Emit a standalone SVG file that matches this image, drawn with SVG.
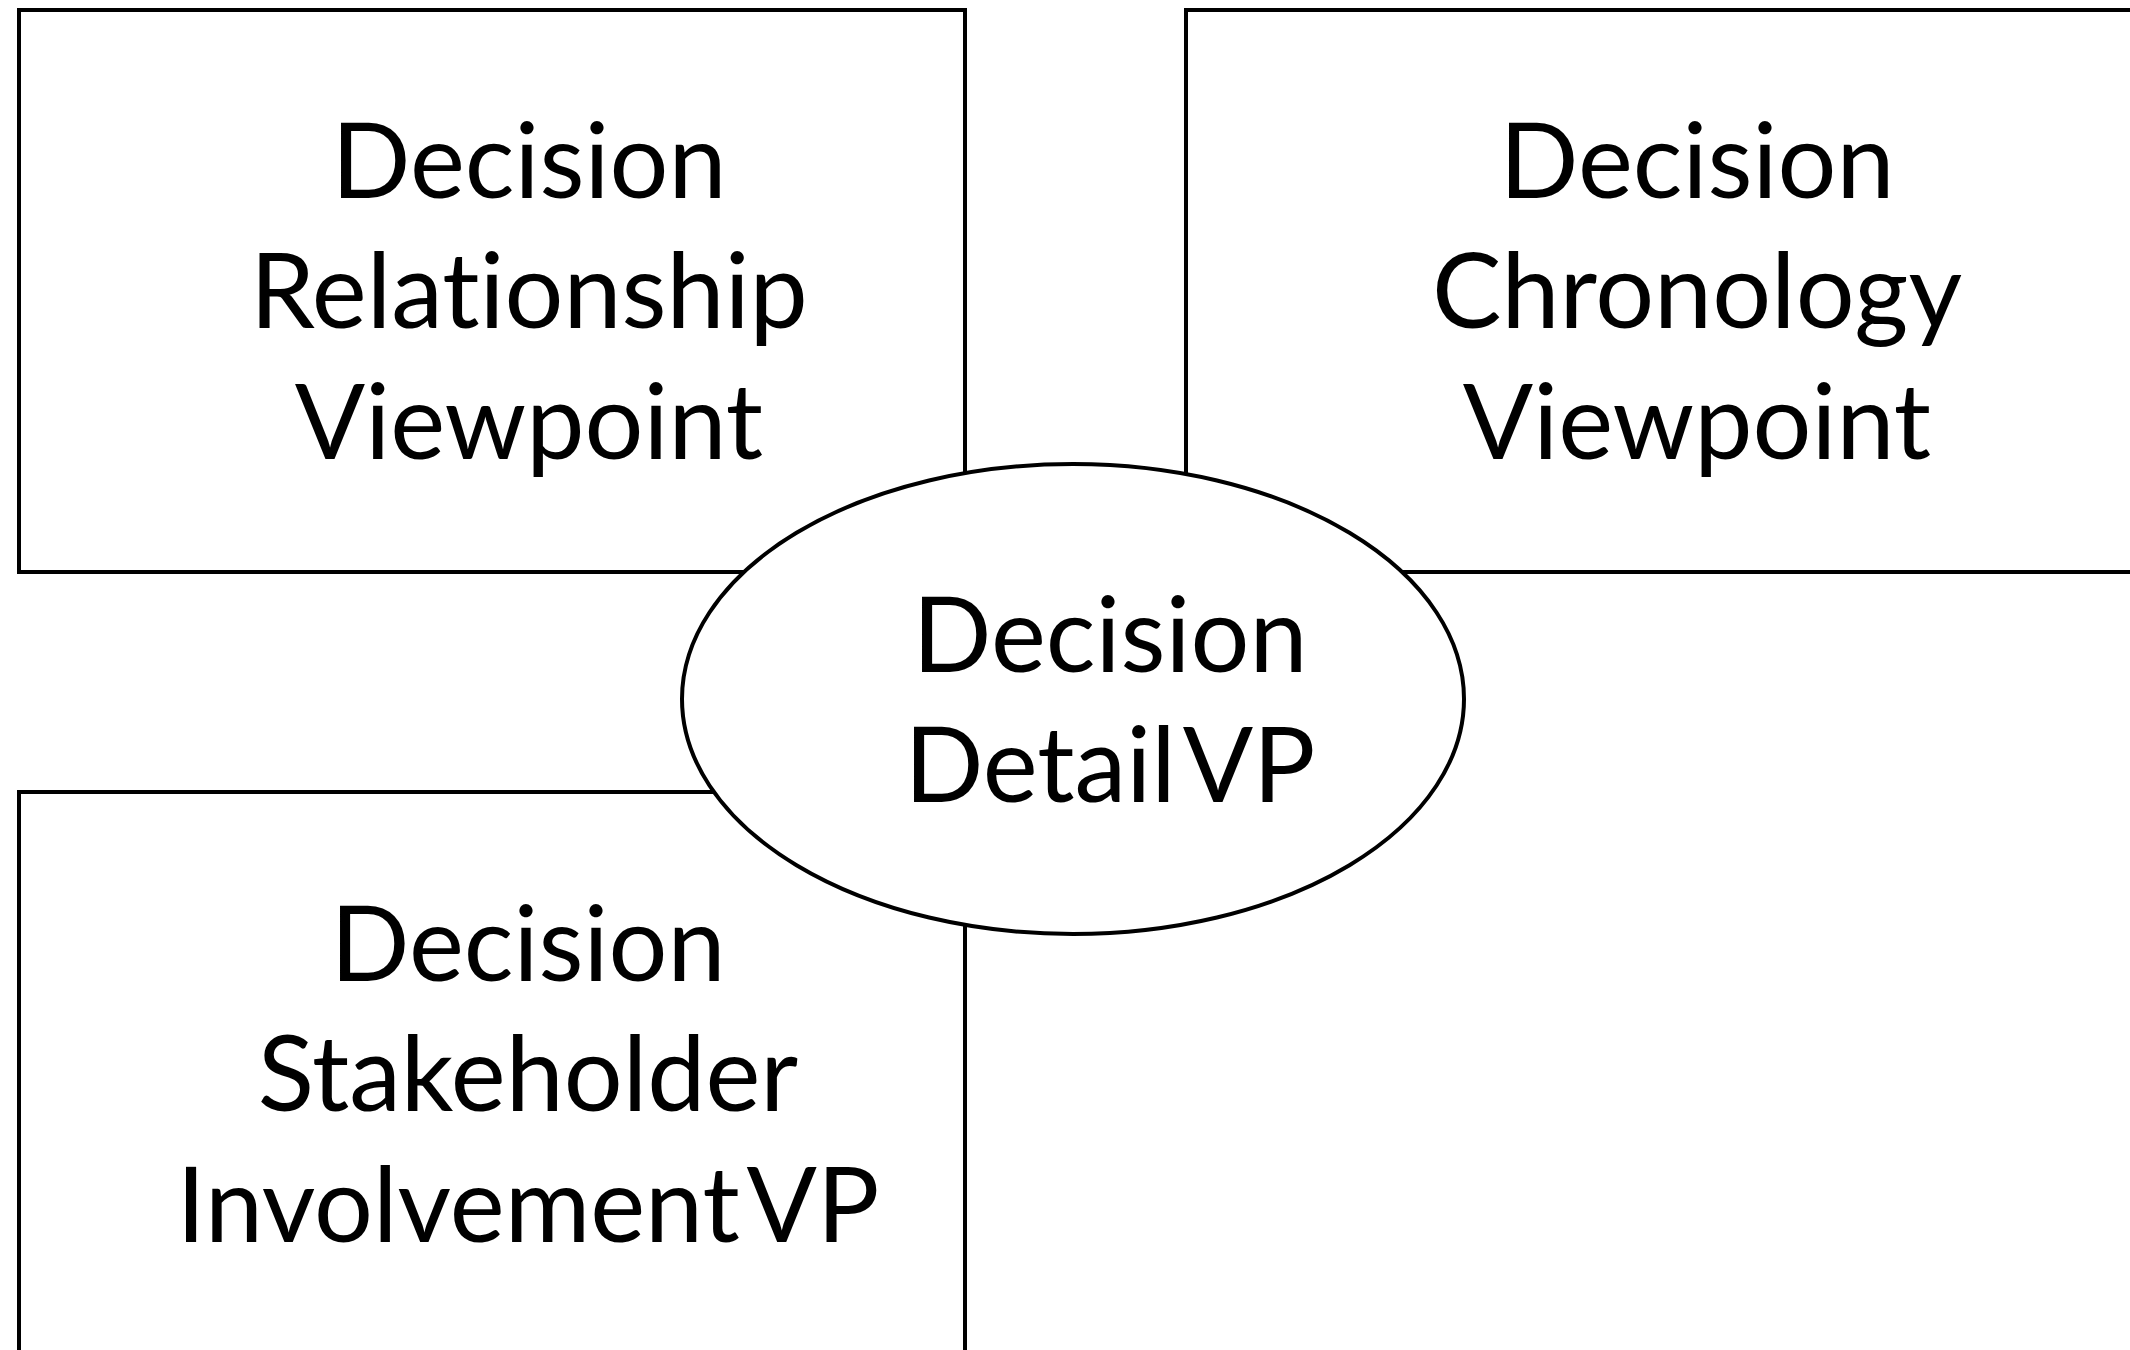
<svg xmlns="http://www.w3.org/2000/svg" width="2130" height="1350" viewBox="0 0 2130 1350">
<style>
.box{fill:#fff;stroke:#000;stroke-width:4}
.ell{fill:#fff;stroke:#000;stroke-width:4}
.lbl{font-family:"Lato","Liberation Sans",sans-serif;font-size:104px;fill:#000;text-anchor:middle;font-variant-ligatures:none;font-feature-settings:"liga" 0,"dlig" 0}
.tight{word-spacing:-16px}
</style>
<rect width="2130" height="1350" fill="#fff"/>
<g id="connectors"></g>
<g id="relationship">
<rect class="box" x="19" y="10" width="946" height="562"/>
<text class="lbl" x="529" y="198">Decision</text>
<text class="lbl" x="529" y="328">Relationship</text>
<text class="lbl" x="529" y="459">Viewpoint</text>
</g>
<g id="chronology">
<rect class="box" x="1186" y="10" width="1000" height="562"/>
<text class="lbl" x="1697" y="198">Decision</text>
<text class="lbl" x="1697" y="328">Chronology</text>
<text class="lbl" x="1697" y="459">Viewpoint</text>
</g>
<g id="stakeholder">
<rect class="box" x="19" y="792" width="946" height="620"/>
<text class="lbl" x="528" y="981">Decision</text>
<text class="lbl" x="528" y="1111">Stakeholder</text>
<text class="lbl tight" x="528" y="1242">Involvement VP</text>
</g>
<g id="detail">
<ellipse class="ell" cx="1073" cy="699" rx="391" ry="235"/>
<text class="lbl" x="1110" y="672">Decision</text>
<text class="lbl tight" x="1110" y="802">Detail VP</text>
</g>
</svg>
